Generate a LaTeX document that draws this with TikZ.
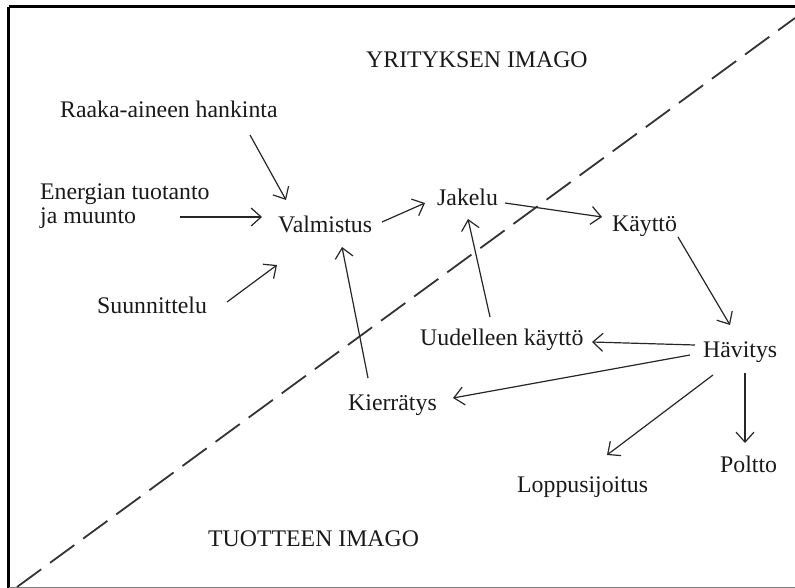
\documentclass[tikz,border=0pt]{standalone}
\usepackage{fontspec}
\setmainfont{Liberation Serif}
\usetikzlibrary{arrows.meta,calc}
\begin{document}
\begin{tikzpicture}[x=1pt,y=-1pt,
  lbl/.style={anchor=base west,inner sep=0pt,text=black!90,font=\fontsize{23.8}{23}\selectfont},
  arr/.style={line width=1.2pt,draw=black!85,-{Straight Barb[length=10pt,width=18pt,line width=1.2pt]}},
  divider/.style={line width=1.8pt,draw=black!80,dash pattern=on 30pt off 11pt}]
\useasboundingbox (0,0) rectangle (795,588);
% frame
\draw[line width=3pt] (8.5,7) -- (795,7) ;
\draw[line width=3pt] (8.5,7) -- (8.5,588);
\draw[line width=1pt,draw=black!50] (8.5,587) -- (795,587);
% divider
\coordinate (d1) at (17,587);
\coordinate (d2) at (795,18);
\draw[divider] (d1) -- (d2);
% labels
\node[lbl] (yrit) at (366,68) {YRITYKSEN IMAGO};
\node[lbl] (raaka) at (60,118) {Raaka-aineen hankinta};
\node[lbl] (energia) at (40,200) {Energian tuotanto};
\node[lbl] (energia2) at (40,223) {ja muunto};
\node[lbl] (valm) at (278,233) {Valmistus};
\node[lbl] (jakelu) at (437,206) {Jakelu};
\node[lbl] (kaytto) at (612,232) {Käyttö};
\node[lbl] (suun) at (97,313) {Suunnittelu};
\node[lbl] (uud) at (420,345) {Uudelleen käyttö};
\node[lbl] (hav) at (703,357) {Hävitys};
\node[lbl] (kierr) at (348,410) {Kierrätys};
\node[lbl] (loppu) at (517,492) {Loppusijoitus};
\node[lbl] (poltto) at (720,472) {Poltto};
\node[lbl] (tuot) at (208,546) {TUOTTEEN IMAGO};
% arrows
\draw[arr] ($(raaka.base west)+(190,17)$) -- ($(valm.base west)+(8,-33)$);
\draw[arr] ($(energia.base west)+(140,17)$) -- ($(valm.base west)+(-16,-16)$);
\draw[arr] ($(suun.base west)+(130,-11)$) -- ($(valm.base west)+(-1,32)$);
\draw[arr] ($(valm.base west)+(104,-11)$) -- ($(jakelu.base west)+(-12,-3)$);
\draw[arr] ($(jakelu.base west)+(68,-3)$) -- ($(kaytto.base west)+(-10,-15)$);
\draw[arr] ($(kaytto.base west)+(66,5)$) -- ($(hav.base west)+(27,-32)$);
\draw[arr] ($(hav.base west)+(-8,-12)$) -- ($(uud.base west)+(172,-3)$);
\draw[arr] ($(hav.base west)+(-13,-2)$) -- ($(kierr.base west)+(105,-12)$);
\draw[arr] ($(hav.base west)+(10,18)$) -- ($(loppu.base west)+(90,-37)$);
\draw[arr] ($(hav.base west)+(42,16)$) -- ($(poltto.base west)+(25,-29)$);
\draw[arr] ($(kierr.base west)+(20,-32)$) -- ($(valm.base west)+(64,14)$);
\draw[arr] ($(uud.base west)+(70,-28)$) -- ($(jakelu.base west)+(31,13)$);
\end{tikzpicture}
\end{document}
